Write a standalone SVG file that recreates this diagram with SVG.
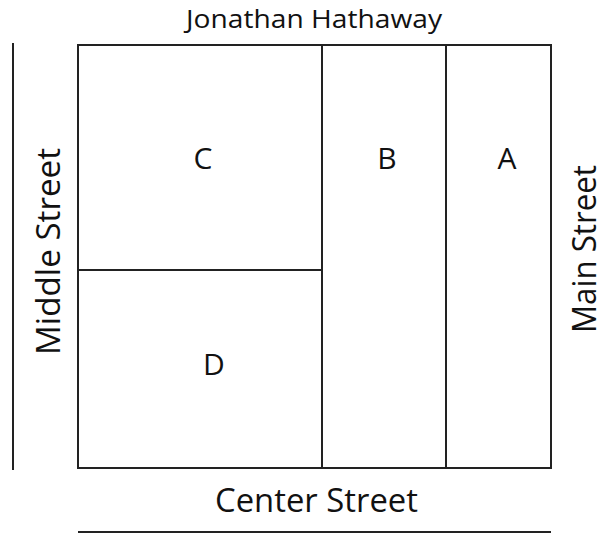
<svg xmlns="http://www.w3.org/2000/svg" width="606" height="534" viewBox="0 0 606 534">
<style>
.ln{stroke:#222;stroke-width:2;fill:none}
.t{font-family:"Open Sans","Liberation Sans",sans-serif;fill:#111}
.lbl{font-size:30px;text-anchor:middle}
.st{font-size:32px;text-anchor:middle}
</style>
<rect width="606" height="534" fill="#fff"/>
<g id="title"><text class="t" x="314" y="28" font-size="26" text-anchor="middle" textLength="256" lengthAdjust="spacingAndGlyphs">Jonathan Hathaway</text></g>
<g id="plan">
<rect class="ln" x="78" y="45" width="473" height="423"/>
<line class="ln" x1="322" y1="45" x2="322" y2="468"/>
<line class="ln" x1="446" y1="45" x2="446" y2="468"/>
<line class="ln" x1="78" y1="270" x2="322" y2="270"/>
</g>
<g id="lotA"><text class="t lbl" x="507" y="169">A</text></g>
<g id="lotB"><text class="t lbl" x="387" y="169">B</text></g>
<g id="lotC"><text class="t lbl" x="203" y="169">C</text></g>
<g id="lotD"><text class="t lbl" x="214" y="375">D</text></g>
<g id="middle-street">
<line class="ln" x1="13" y1="43" x2="13" y2="470"/>
<text class="t st" transform="translate(60,251.5) rotate(-90)" textLength="207" lengthAdjust="spacingAndGlyphs">Middle Street</text>
</g>
<g id="main-street">
<text class="t st" transform="translate(596,249) rotate(-90)" textLength="168" lengthAdjust="spacingAndGlyphs">Main Street</text>
</g>
<g id="center-street">
<text class="t st" x="316.5" y="512" textLength="203" lengthAdjust="spacingAndGlyphs">Center Street</text>
<line class="ln" x1="78" y1="532" x2="551" y2="532"/>
</g>
</svg>
